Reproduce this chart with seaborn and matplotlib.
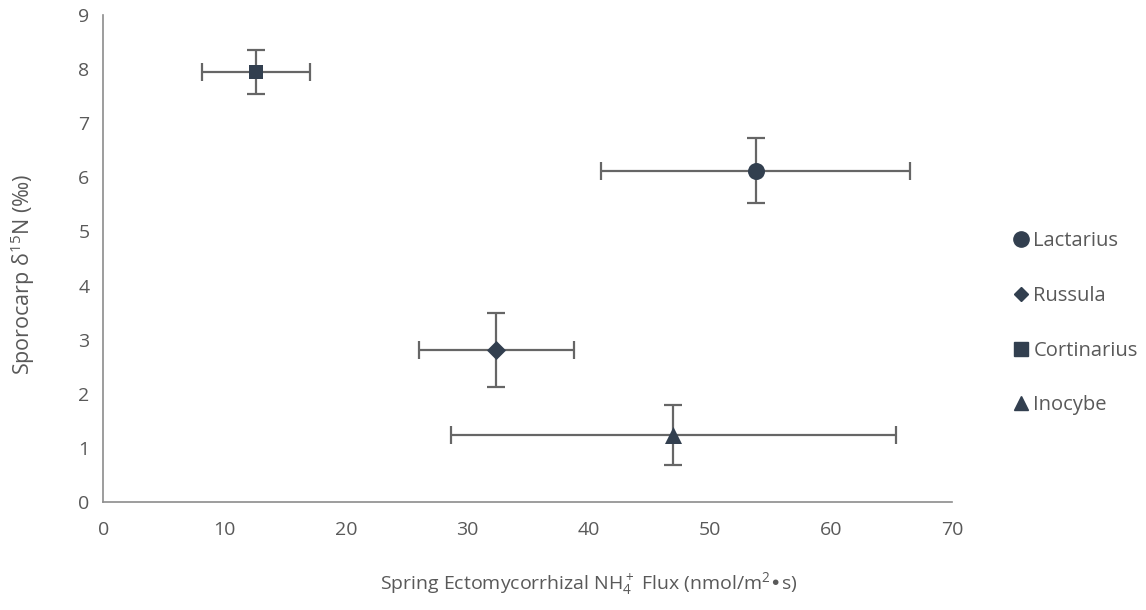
import matplotlib
matplotlib.use("Agg")
import matplotlib.pyplot as plt
import seaborn as sns
import pandas as pd
from matplotlib.lines import Line2D

species = ["Lactarius", "Russula", "Cortinarius", "Inocybe"]
flux = [53.8, 32.4, 12.6, 47.0]
flux_err = [12.75, 6.4, 4.45, 18.35]
d15n = [6.12, 2.81, 7.95, 1.24]
d15n_err = [0.60, 0.69, 0.41, 0.56]
x_ticks = [0, 10, 20, 30, 40, 50, 60, 70]
y_ticks = [0, 1, 2, 3, 4, 5, 6, 7, 8, 9]

sns.set_style("white")
plt.rcParams['font.family'] = ['Open Sans', 'DejaVu Sans']
plt.rcParams['mathtext.default'] = 'regular'

df = pd.DataFrame({"species": species, "flux": flux, "d15n": d15n})

marker_col = "#323F4F"
err_col = "#666666"
text_col = "#595959"
axis_col = "#8C8C8C"

fig = plt.figure(figsize=(11.46, 6.10), dpi=100)
ax = fig.add_axes([0.0903, 0.177, 0.7404, 0.7984])

ax.errorbar(flux, d15n, xerr=flux_err, yerr=d15n_err, fmt='none',
            ecolor=err_col, elinewidth=1.6, capsize=6.5, capthick=1.6, zorder=2)

markers = {"Lactarius": "o", "Russula": "D", "Cortinarius": "s", "Inocybe": "^"}
sizes_map = {"Lactarius": 150, "Russula": 95, "Cortinarius": 110, "Inocybe": 150}
for sp in species:
    sub = df[df.species == sp]
    sns.scatterplot(data=sub, x="flux", y="d15n", marker=markers[sp],
                    s=sizes_map[sp], color=marker_col, edgecolor=marker_col,
                    linewidth=0, ax=ax, zorder=3, legend=False)

ax.set_xlim(0, 70)
ax.set_ylim(0, 9)
ax.set_xticks(x_ticks)
ax.set_yticks(y_ticks)
ax.tick_params(axis='both', colors=axis_col, labelcolor=text_col,
               labelsize=14, direction='out', length=5, width=1.2)
ax.tick_params(axis='x', pad=9)
ax.tick_params(axis='y', pad=5)
for s in ["top", "right"]:
    ax.spines[s].set_visible(False)
for s in ["left", "bottom"]:
    ax.spines[s].set_color(axis_col)
    ax.spines[s].set_linewidth(1.2)

ax.set_xlabel("Spring Ectomycorrhizal NH$_4^+$ Flux (nmol/m$^2$•s)",
              fontsize=14, color=text_col, labelpad=22)
ax.xaxis.label.set_x(0.572)
ax.set_ylabel("Sporocarp δ$^{15}$N (‰)", fontsize=15.5, color=text_col, labelpad=30)
ax.yaxis.label.set_y(0.468)

leg_sizes = {"Lactarius": 11, "Russula": 7.5, "Cortinarius": 10, "Inocybe": 10}
handles = [Line2D([0], [0], marker=markers[sp], color='none',
                  markerfacecolor=marker_col, markeredgecolor=marker_col,
                  markersize=leg_sizes[sp], label=sp) for sp in species]
leg = fig.legend(handles=handles, loc='center left', bbox_to_anchor=(0.870, 0.47),
                 frameon=False, fontsize=14.5, labelspacing=1.72,
                 handlelength=0.6, handletextpad=0.3)
for t in leg.get_texts():
    t.set_color(text_col)

fig.savefig("out.png", dpi=100)
